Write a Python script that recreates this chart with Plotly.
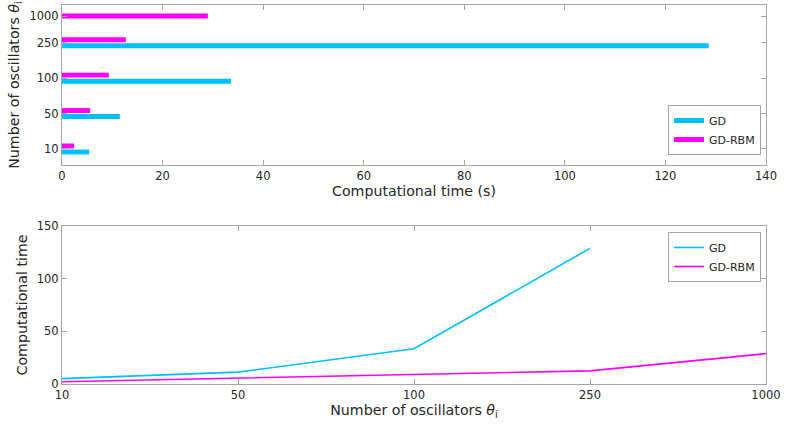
import plotly.graph_objects as go

# ---- data ----
oscillators = ["10", "50", "100", "250", "1000"]
gd_time = [5.4, 11.5, 33.6, 128.6, None]
gd_rbm_time = [2.4, 5.6, 9.3, 12.7, 29.0]

# ---- styling / layout ----
CYAN = "#00bfff"
MAGENTA = "#ff00ff"
FRAME = "#a6a6a6"
FONT = "DejaVu Sans"
W, H = 785, 428


def px_x(p):
    return p / W


def px_y(p):
    return 1 - p / H


# row positions of the horizontal bar groups (top panel)
row_pos = [1.0, 2.0, 3.0, 4.0, 4.754]
bar_w = 0.14
gap = 0.085
gd_off = [-gap - bar_w / 2] * 5
rbm_off = [gap - bar_w / 2] * 4 + [-bar_w / 2]

fig = go.Figure()

# top panel: horizontal bars
fig.add_trace(go.Bar(x=gd_time, y=row_pos, orientation="h", width=bar_w,
                     offset=gd_off, marker=dict(color=CYAN, line_width=0),
                     showlegend=False, xaxis="x", yaxis="y"))
fig.add_trace(go.Bar(x=gd_rbm_time, y=row_pos, orientation="h", width=bar_w,
                     offset=rbm_off, marker=dict(color=MAGENTA, line_width=0),
                     showlegend=False, xaxis="x", yaxis="y"))
# legend entries for top panel (thick line swatches)
fig.add_trace(go.Scatter(x=[None], y=[None], mode="lines", name="GD",
                         line=dict(color=CYAN, width=5), legend="legend",
                         xaxis="x", yaxis="y"))
fig.add_trace(go.Scatter(x=[None], y=[None], mode="lines", name="GD-RBM",
                         line=dict(color=MAGENTA, width=5), legend="legend",
                         xaxis="x", yaxis="y"))

# bottom panel: lines
fig.add_trace(go.Scatter(x=oscillators, y=gd_time, mode="lines", name="GD",
                         line=dict(color=CYAN, width=1.6), legend="legend2",
                         xaxis="x2", yaxis="y2"))
fig.add_trace(go.Scatter(x=oscillators, y=gd_rbm_time, mode="lines", name="GD-RBM",
                         line=dict(color=MAGENTA, width=1.6), legend="legend2",
                         xaxis="x2", yaxis="y2"))

x_dom = [px_x(62), px_x(766)]
top_dom = [px_y(165), px_y(5)]
bot_dom = [px_y(384.3), px_y(225.7)]

tickfont = dict(family=FONT, size=11.5, color="#262626")
titlefont = dict(family=FONT, size=14.2, color="#262626")
osc_title = "Number of oscillators <i>θ</i><sub>i</sub>"

axis_common = dict(showline=True, linecolor=FRAME, linewidth=1, mirror="ticks",
                   ticks="inside", ticklen=5, tickcolor=FRAME, showgrid=False,
                   zeroline=False, tickfont=tickfont, automargin=False)

fig.update_layout(
    width=W, height=H,
    margin=dict(l=0, r=0, t=0, b=0),
    paper_bgcolor="white", plot_bgcolor="white",
    barmode="overlay",
    font=dict(family=FONT, color="#262626"),
    xaxis=dict(domain=x_dom, anchor="y", range=[0, 140], tickvals=list(range(0, 141, 20)),
               title=dict(text="Computational time (s)", font=titlefont, standoff=1),
               **axis_common),
    yaxis=dict(domain=top_dom, anchor="x", range=[0.548, 5.065], tickvals=row_pos,
               ticktext=oscillators,
               title=dict(text=osc_title, font=titlefont, standoff=6),
               **axis_common),
    xaxis2=dict(domain=x_dom, anchor="y2", type="category", range=[0, 4],
                categoryorder="array", categoryarray=oscillators,
                title=dict(text=osc_title, font=titlefont, standoff=1),
                **axis_common),
    yaxis2=dict(domain=bot_dom, anchor="x2", range=[0, 150], tickvals=[0, 50, 100, 150],
                title=dict(text="Computational time", font=titlefont, standoff=5),
                **axis_common),
    legend=dict(x=px_x(761), y=px_y(155), xanchor="right", yanchor="bottom",
                bgcolor="white", bordercolor=FRAME, borderwidth=1,
                font=dict(family=FONT, size=11, color="#262626"),
                tracegroupgap=0, itemwidth=30),
    legend2=dict(x=px_x(761), y=px_y(232), xanchor="right", yanchor="top",
                 bgcolor="white", bordercolor=FRAME, borderwidth=1,
                 font=dict(family=FONT, size=11, color="#262626"),
                 tracegroupgap=0, itemwidth=30),
)

fig.write_html("out.html",
               config={"displayModeBar": False},
               post_script="document.body.style.margin='0';document.body.style.overflow='hidden';")
